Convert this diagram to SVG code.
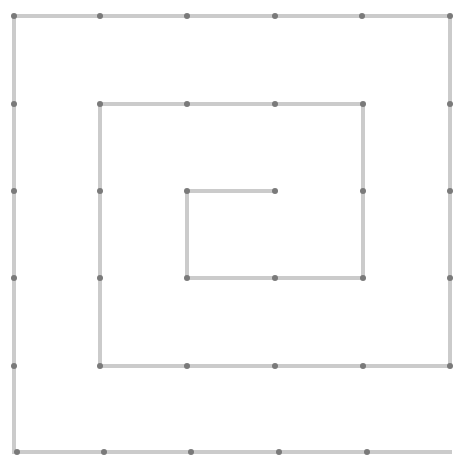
<svg xmlns="http://www.w3.org/2000/svg" width="454" height="456" viewBox="0 0 454 456">
<style>
.line{fill:none;stroke:#cbcbcb;stroke-width:4;stroke-linejoin:miter;stroke-linecap:butt}
.dot{fill:#7a7a7a}
</style>
<rect width="454" height="456" fill="#ffffff"/>
<g id="connectors">
<path class="line" d="M275,191 H187 V278 H363 V104 H100 V366 H450 V16 H14 V452 H452"/>
</g>
<g id="dots">
<circle class="dot" cx="275" cy="191" r="3"/>
<circle class="dot" cx="187" cy="191" r="3"/>
<circle class="dot" cx="187" cy="278" r="3"/>
<circle class="dot" cx="275" cy="278" r="3"/>
<circle class="dot" cx="363" cy="278" r="3"/>
<circle class="dot" cx="363" cy="191" r="3"/>
<circle class="dot" cx="363" cy="104" r="3"/>
<circle class="dot" cx="275" cy="104" r="3"/>
<circle class="dot" cx="187" cy="104" r="3"/>
<circle class="dot" cx="100" cy="104" r="3"/>
<circle class="dot" cx="100" cy="191" r="3"/>
<circle class="dot" cx="100" cy="278" r="3"/>
<circle class="dot" cx="100" cy="366" r="3"/>
<circle class="dot" cx="187" cy="366" r="3"/>
<circle class="dot" cx="275" cy="366" r="3"/>
<circle class="dot" cx="363" cy="366" r="3"/>
<circle class="dot" cx="450" cy="366" r="3"/>
<circle class="dot" cx="450" cy="278" r="3"/>
<circle class="dot" cx="450" cy="191" r="3"/>
<circle class="dot" cx="450" cy="104" r="3"/>
<circle class="dot" cx="450" cy="16" r="3"/>
<circle class="dot" cx="362" cy="16" r="3"/>
<circle class="dot" cx="275" cy="16" r="3"/>
<circle class="dot" cx="187" cy="16" r="3"/>
<circle class="dot" cx="100" cy="16" r="3"/>
<circle class="dot" cx="14" cy="16" r="3"/>
<circle class="dot" cx="14" cy="104" r="3"/>
<circle class="dot" cx="14" cy="191" r="3"/>
<circle class="dot" cx="14" cy="278" r="3"/>
<circle class="dot" cx="14" cy="366" r="3"/>
<circle class="dot" cx="17" cy="452" r="3"/>
<circle class="dot" cx="104" cy="452" r="3"/>
<circle class="dot" cx="191" cy="452" r="3"/>
<circle class="dot" cx="279" cy="452" r="3"/>
<circle class="dot" cx="367" cy="452" r="3"/>
</g>
</svg>
